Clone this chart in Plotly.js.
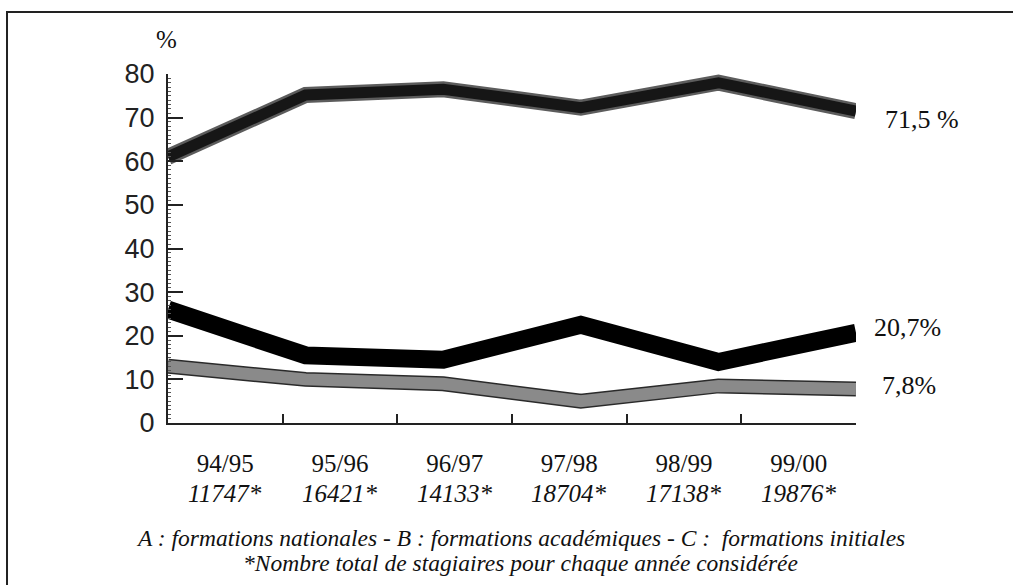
<!DOCTYPE html>
<html>
<head>
<meta charset="utf-8">
<script src="https://cdn.plot.ly/plotly-3.0.1.min.js"></script>
<style>html,body{margin:0;padding:0;background:#fff;}#chart{width:1013px;height:585px;}</style>
</head>
<body>
<div id="chart"></div>
<script>
const years = ['94/95', '95/96', '96/97', '97/98', '98/99', '99/00'];
const counts = ['11747*', '16421*', '14133*', '18704*', '17138*', '19876*'];
const seriesA = [61, 75.2, 76.5, 72.3, 78, 71.5];
const seriesB = [26, 15.5, 14.5, 22.5, 14, 20.7];
const seriesC = [13, 10, 9, 5, 8.5, 7.8];
const endLabels = ['71,5 %', '20,7%', '7,8%'];
const footLine1 = 'A : formations nationales - B : formations académiques - C :  formations initiales';
const footLine2 = '*Nombre total de stagiaires pour chaque année considérée';

const serif = 'Liberation Serif, DejaVu Serif, serif';
const sans = 'Liberation Sans, Arial, sans-serif';

const traces = [
  {x: years, y: seriesA, type: 'scatter', mode: 'lines', line: {color: '#5c5c5c', width: 16}, hoverinfo: 'skip', showlegend: false},
  {x: years, y: seriesA, type: 'scatter', mode: 'lines', line: {color: '#161616', width: 11}, hoverinfo: 'skip', showlegend: false},
  {x: years, y: seriesB, type: 'scatter', mode: 'lines', line: {color: '#000', width: 18}, hoverinfo: 'skip', showlegend: false},
  {x: years, y: seriesC, type: 'scatter', mode: 'lines', line: {color: '#2a2a2a', width: 15}, hoverinfo: 'skip', showlegend: false},
  {x: years, y: seriesC, type: 'scatter', mode: 'lines', line: {color: '#8a8a8a', width: 12}, hoverinfo: 'skip', showlegend: false},
  {x: years, y: years.map(() => null), xaxis: 'x2', type: 'scatter', mode: 'lines', hoverinfo: 'skip', showlegend: false}
];

const annotations = [
  {text: '%', xref: 'paper', yref: 'paper', x: -0.0015, y: 1.10, xanchor: 'center', yanchor: 'middle', showarrow: false, font: {family: serif, size: 25, color: '#111'}},
  {text: endLabels[0], xref: 'paper', yref: 'y', x: 1.039, y: seriesA[5], yshift: -8, xanchor: 'left', yanchor: 'middle', showarrow: false, font: {family: serif, size: 26, color: '#111'}},
  {text: endLabels[1], xref: 'paper', yref: 'y', x: 1.023, y: seriesB[5], yshift: 5, xanchor: 'left', yanchor: 'middle', showarrow: false, font: {family: serif, size: 26, color: '#111'}},
  {text: endLabels[2], xref: 'paper', yref: 'y', x: 1.035, y: seriesC[5], yshift: 3, xanchor: 'left', yanchor: 'middle', showarrow: false, font: {family: serif, size: 26, color: '#111'}},
  {text: '<i>' + footLine1 + '</i>', xref: 'paper', yref: 'paper', x: 0.513, y: -0.3295, xanchor: 'center', yanchor: 'middle', showarrow: false, font: {family: serif, size: 23.5, color: '#111'}},
  {text: '<i>' + footLine2 + '</i>', xref: 'paper', yref: 'paper', x: 0.513, y: -0.401, xanchor: 'center', yanchor: 'middle', showarrow: false, font: {family: serif, size: 23.5, color: '#111'}}
];
counts.forEach((c, i) => {
  annotations.push({text: '<i>' + c + '</i>', xref: 'x2', yref: 'paper', x: years[i], y: -0.203, xanchor: 'center', yanchor: 'middle', showarrow: false, font: {family: serif, size: 25, color: '#111'}});
});

const layout = {
  width: 1013, height: 585,
  margin: {l: 168, r: 157, t: 74, b: 162},
  paper_bgcolor: '#fff', plot_bgcolor: '#fff',
  showlegend: false,
  xaxis: {type: 'category', categoryorder: 'array', categoryarray: years, range: [0, 5],
    showticklabels: false, ticks: '', showgrid: false, zeroline: false, showline: false, fixedrange: true},
  xaxis2: {type: 'category', categoryorder: 'array', categoryarray: years, range: [-0.5, 5.5],
    overlaying: 'x', anchor: 'y', side: 'bottom', tickson: 'boundaries', ticks: 'inside', ticklen: 9, tickwidth: 2, tickcolor: '#222',
    showline: true, linewidth: 2, linecolor: '#222', showgrid: false, zeroline: false,
    tickfont: {family: serif, size: 25, color: '#111'}, ticklabelstandoff: 17, fixedrange: true},
  yaxis: {range: [0, 80], tickmode: 'linear', tick0: 0, dtick: 10, ticks: 'inside', ticklen: 15, tickwidth: 2, tickcolor: '#222',
    showline: true, linewidth: 2, linecolor: '#222', showgrid: false, zeroline: false,
    tickfont: {family: sans, size: 27, color: '#222'}, ticklabelstandoff: 6,
    minor: {dtick: 1, ticks: 'inside', ticklen: 3, tickwidth: 1, tickcolor: '#555', showgrid: false}, fixedrange: true},
  shapes: [
    {type: 'rect', xref: 'paper', yref: 'paper', x0: -0.234, x1: 1.3, y0: -0.6, y1: 1.1777, line: {color: '#222', width: 2}, fillcolor: 'rgba(0,0,0,0)', layer: 'below'}
  ],
  annotations: annotations
};

Plotly.newPlot('chart', traces, layout, {staticPlot: true, displayModeBar: false});
</script>
</body>
</html>
